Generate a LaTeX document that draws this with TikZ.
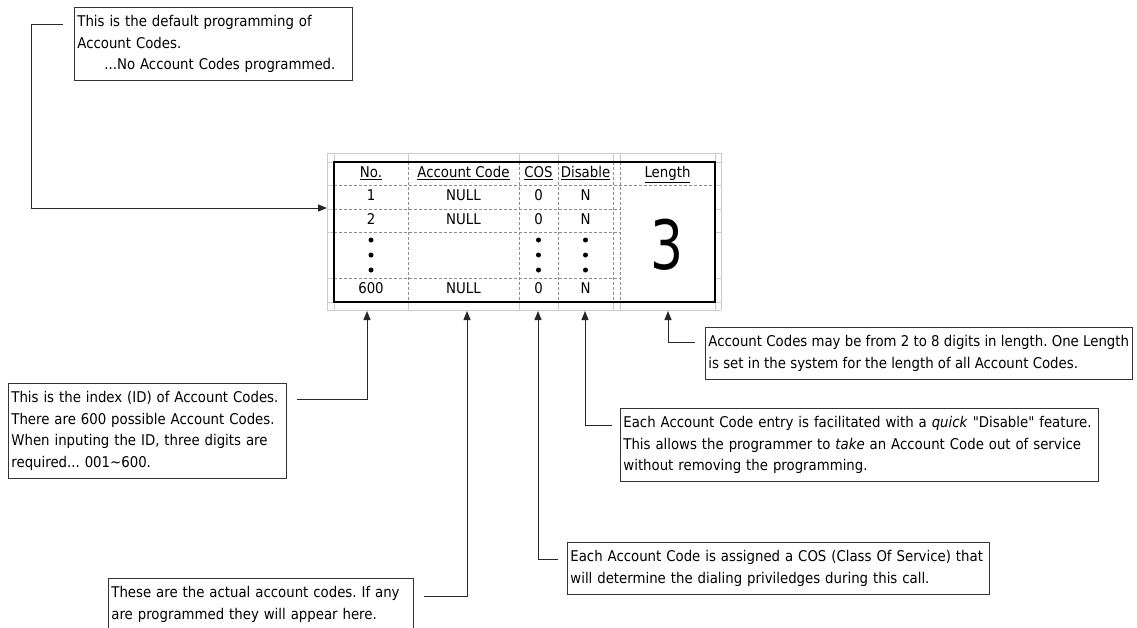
\documentclass[tikz,border=0pt]{standalone}
\usepackage{fontspec}
\setmainfont{DejaVu Sans Condensed}[Ligatures=TeXOff]
\usepackage{tikz}
\usetikzlibrary{arrows.meta}
\frenchspacing

\tikzset{
  note/.style={draw=black!80, line width=0.8pt, anchor=north west,
    align=left, inner xsep=3pt, inner ysep=8pt},
  cell/.style={text height=10.5pt, text depth=3pt, inner sep=0pt},
  lead/.style={draw=black!85, line width=1pt},
  tip/.style={-{Triangle[length=9pt,width=7pt]}},
  grid/.style={black!20, line width=0.8pt},
  cut/.style={black!45, line width=0.7pt, dash pattern=on 3pt off 2pt}
}

\begin{document}
\begin{tikzpicture}[x=1pt, y=-1pt, font=\fontsize{14.8}{21.5}\selectfont]
    \useasboundingbox (0, 0) rectangle (1137, 627);

    \foreach \x in {327, 334, 408, 519, 558, 613, 620, 715, 721}
	\draw [grid] (\x, 153) -- (\x, 310);
    \foreach \y in {153, 162, 185, 209, 232, 278, 302, 310}
	\draw [grid] (327, \y) -- (721, \y);
    \fill [white] (334, 162) rectangle (715, 302);
    \draw [cut] (334, 185) -- (715, 185);
    \foreach \y in {209, 232, 278}
	\draw [cut] (334, \y) -- (620, \y);
    \foreach \x in {408, 519, 558, 613, 620}
	\draw [cut] (\x, 162) -- (\x, 302);
    \draw [line width=1.3pt] (334, 162) rectangle (715, 302);

    \path (371, 173.5) node [cell] (hno) {\underline{No.}};
    \path (463.5, 173.5) node [cell] (hac) {\underline{Account Code}};
    \path (538.5, 173.5) node [cell] (hcs) {\underline{COS}};
    \path (585.5, 173.5) node [cell] (hds) {\underline{Disable}};
    \path (667.5, 173.5) node [cell] (hln) {\underline{Length}};
    \foreach \y/\n/\r in {197/1/a, 220.5/2/b, 290/600/c} {
	\path (371, \y) node [cell] (no\r) {\n};
	\path (463.5, \y) node [cell] (ac\r) {NULL};
	\path (538.5, \y) node [cell] (cs\r) {0};
	\path (585.5, \y) node [cell] (ds\r) {N};
    }
    \foreach \x in {371, 538.5, 585.5}
	\foreach \y in {240, 255, 270}
	    \fill (\x, \y) circle (2.5pt);
    \path (667.5, 245) node [font=\fontsize{68}{68}\selectfont] (len)
	{\scalebox{0.85}[1]{3}};

    \coordinate (tdf) at (327, 208);
    \coordinate (tno) at (367, 311);
    \coordinate (tac) at (467, 311);
    \coordinate (tcs) at (538, 311);
    \coordinate (tds) at (585, 311);
    \coordinate (tln) at (668, 311);

    \path (74, 7) node [note, text width=272pt] (df) {This is the default programming of\\
	Account Codes.\\\hspace*{27pt}...No Account Codes programmed.};
    \path (8, 383) node [note, text width=272pt] (ix) {This is the index (ID) of Account Codes.\\
	There are 600 possible Account Codes.\\
	When inputing the ID, three digits are\\
	required... 001\textasciitilde600.};
    \path (108, 578) node [note, text width=299pt] (ac) {These are the actual account codes. If any\\
	are programmed they will appear here.\\ };
    \path (567, 542) node [note, text width=416pt] (cs) {Each Account Code is assigned a COS (Class Of Service) that\\
	will determine the dialing priviledges during this call.};
    \path (620, 408) node [note, text width=472pt] (ds) {Each Account Code entry is facilitated with a \textit{quick} "Disable" feature.\\
	This allows the programmer to \textit{take} an Account Code out of service\\
	without removing the programming.};
    \path (705, 327) node [note] (ln) {Account Codes may be from 2 to 8 digits in length. One Length\\
	is set in the system for the length of all Account Codes.};

    \draw [lead, tip] ([xshift=-11pt, yshift=-17pt]df.north west) -- ++(-32, 0) |- (tdf);
    \draw [lead, tip] ([xshift=10pt, yshift=-16pt]ix.north east) -| (tno);
    \draw [lead, tip] ([xshift=10pt, yshift=-18pt]ac.north east) -| (tac);
    \draw [lead, tip] ([xshift=-9pt, yshift=-17pt]cs.north west) -| (tcs);
    \draw [lead, tip] ([xshift=-8pt, yshift=-17pt]ds.north west) -| (tds);
    \draw [lead, tip] ([xshift=-10pt, yshift=-15pt]ln.north west) -| (tln);
\end{tikzpicture}
\end{document}
